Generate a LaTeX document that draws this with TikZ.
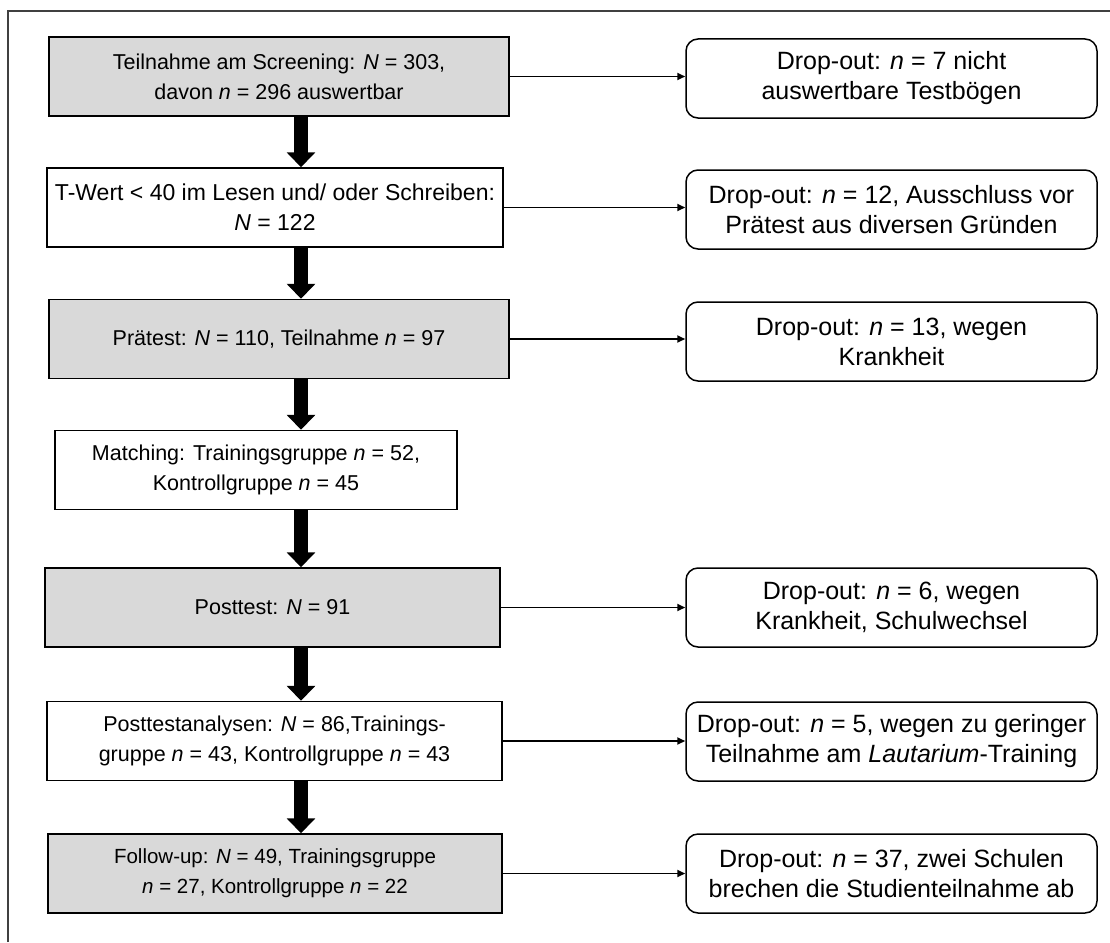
\documentclass[tikz,border=0pt]{standalone}
\usepackage{fontspec}
\setmainfont{Liberation Sans}
\usetikzlibrary{arrows.meta}
\definecolor{boxgray}{HTML}{D9D9D9}
\definecolor{framegray}{HTML}{404040}
\begin{document}
\begin{tikzpicture}[x=1pt,y=-1pt,
  stage/.style={draw=black, line width=1.5pt, align=center, inner sep=0pt,
    font=\fontsize{21.5}{30}\selectfont, minimum height=79pt},
  shaded/.style={fill=boxgray},
  dropbox/.style={stage, rounded corners=12pt, minimum width=411pt,
    font=\fontsize{25}{30}\selectfont},
  bigarrow/.style={line width=14pt, -{Triangle[length=15pt,width=28pt]}},
  thinarrow/.style={line width=1.8pt, -{Triangle[length=8pt,width=7pt]}}]
\useasboundingbox (0,0) rectangle (1110,942);

% frame lines along the top and left edges
\draw[framegray, line width=1.2pt] (8,942) -- (8,11) -- (1110,11);

% main sequence (left column)
\node[stage, shaded, minimum width=460pt] (L1) at (279,76.5)
  {Teilnahme am Screening: \textit{N} = 303,\\davon \textit{n} = 296 auswertbar};
\node[stage, minimum width=456pt, font=\fontsize{23}{30}\selectfont] (L2) at (275,207.5)
  {T-Wert < 40 im Lesen und/ oder Schreiben:\\\textit{N} = 122};
\node[stage, shaded, minimum width=460pt] (L3) at (279,339)
  {Prätest: \textit{N} = 110, Teilnahme \textit{n} = 97};
\node[stage, minimum width=402pt] (L4) at (256,470)
  {Matching: Trainingsgruppe \textit{n} = 52,\\Kontrollgruppe \textit{n} = 45};
\node[stage, shaded, minimum width=455pt] (L5) at (272.5,607.5)
  {Posttest: \textit{N} = 91};
\node[stage, minimum width=455pt] (L6) at (274.5,741)
  {Posttestanalysen: \textit{N} = 86,Trainings-\\gruppe \textit{n} = 43, Kontrollgruppe \textit{n} = 43};
\node[stage, shaded, minimum width=454pt, font=\fontsize{20.5}{30}\selectfont] (L7) at (275,873.5)
  {Follow-up: \textit{N} = 49, Trainingsgruppe\\\textit{n} = 27, Kontrollgruppe \textit{n} = 22};

% drop-out boxes (right column)
\node[dropbox] (R1) at (891.5,78.5)
  {Drop-out: \textit{n} = 7 nicht\\auswertbare Testbögen};
\node[dropbox] (R2) at (891.5,209.5)
  {Drop-out: \textit{n} = 12, Ausschluss vor\\Prätest aus diversen Gründen};
\node[dropbox] (R3) at (891.5,341.5)
  {Drop-out: \textit{n} = 13, wegen\\Krankheit};
\node[dropbox] (R4) at (891.5,607.5)
  {Drop-out: \textit{n} = 6, wegen\\Krankheit, Schulwechsel};
\node[dropbox] (R5) at (891.5,741.5)
  {Drop-out: \textit{n} = 5, wegen zu geringer\\Teilnahme am \textit{Lautarium}-Training};
\node[dropbox] (R6) at (891.5,873.5)
  {Drop-out: \textit{n} = 37, zwei Schulen\\brechen die Studienteilnahme ab};

% vertical flow arrows
\coordinate (ax) at (301,0);
\draw[bigarrow] (L1.south -| ax) -- (L2.north -| ax);
\draw[bigarrow] (L2.south -| ax) -- (L3.north -| ax);
\draw[bigarrow] (L3.south -| ax) -- (L4.north -| ax);
\draw[bigarrow] (L4.south -| ax) -- (L5.north -| ax);
\draw[bigarrow] (L5.south -| ax) -- (L6.north -| ax);
\draw[bigarrow] (L6.south -| ax) -- (L7.north -| ax);

% drop-out arrows
\draw[thinarrow] (L1.east) -- (R1.west |- L1.east);
\draw[thinarrow] (L2.east) -- (R2.west |- L2.east);
\draw[thinarrow] (L3.east) -- (R3.west |- L3.east);
\draw[thinarrow] (L5.east) -- (R4.west |- L5.east);
\draw[thinarrow] (L6.east) -- (R5.west |- L6.east);
\draw[thinarrow] (L7.east) -- (R6.west |- L7.east);
\end{tikzpicture}
\end{document}
